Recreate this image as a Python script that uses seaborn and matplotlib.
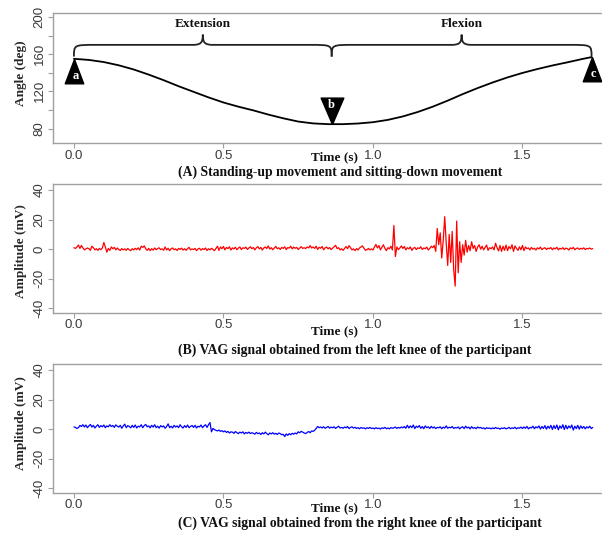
import matplotlib

matplotlib.use("Agg")
import matplotlib.pyplot as plt
import numpy as np
import seaborn as sns
from matplotlib.patches import PathPatch
from matplotlib.path import Path

# ---------------------------------------------------------------- data
FS = 200  # VAG sampling rate used for the traces below (samples / s)

# knee angle during stand-up / sit-down (panel A)
ANGLE_T = [0.00, 0.05, 0.10, 0.15, 0.20, 0.25, 0.30, 0.35, 0.40, 0.45,
           0.50, 0.55, 0.60, 0.65, 0.70, 0.75, 0.80, 0.85, 0.90, 0.95,
           1.00, 1.05, 1.10, 1.15, 1.20, 1.25, 1.30, 1.35, 1.40, 1.45,
           1.50, 1.55, 1.60, 1.65, 1.70, 1.731]
ANGLE_DEG = [155.0, 153.8, 151.5, 148.0, 143.5, 138.0, 132.0, 125.5, 119.5, 113.5,
             108.0, 103.5, 99.5, 95.0, 91.0, 87.5, 85.5, 84.7, 84.7, 85.4,
             86.8, 89.3, 93.0, 97.8, 103.5, 110.0, 117.0, 123.5, 129.5, 135.0,
             139.8, 144.0, 147.8, 151.2, 154.8, 156.8]

EVENT_T = [0.0, 0.862, 1.731]
EVENT_DEG = [155.0, 84.7, 156.8]
EVENT_LABELS = ["a", "b", "c"]
PHASE_LABELS = ["Extension", "Flexion"]

# VAG signal, left knee (panel B), one row = 0.1 s
LEFT_KNEE_MV = [
    1.0, 0.5, 1.5, 2.8, 0.5, 2.5, 0.8, -0.5, 0.2, 0.8, 0.3, -0.8, 2.0, 1.0, -0.5, 0.3, -0.8, 0.5, -0.3, 0.8,
    4.5, 1.5, -2.0, 0.5, -0.8, 1.5, 0.3, 1.2, -0.5, 0.8, -0.2, -0.9, 0.4, -0.5, 0.2, -0.8, 0.5, -0.4, -1.0, 0.3,
    -0.5, 0.6, -0.3, 0.9, -0.6, 2.0, 1.2, 2.2, 0.3, -0.8, 0.5, -1.0, 0.3, -0.6, 0.8, -0.4, 0.5, 0.9, -0.3, 0.2,
    -0.7, 1.5, -0.5, 0.6, -1.0, 0.3, 0.8, -0.4, 0.2, -0.9, 0.5, -0.2, 0.7, -0.6, 0.3, -0.8, 0.4, 1.2, -0.5, 0.2,
    -0.3, 0.5, -1.0, 0.2, 0.6, -0.7, 0.4, -0.3, 0.8, -0.9, 0.3, -0.5, 0.6, -0.2, -1.0, 0.5, 2.0, -0.8, 1.5, 0.3,
    1.8, -0.5, 1.2, 0.4, 1.6, -0.6, 0.9, 0.2, 1.3, -0.4, 0.7, 1.5, -0.3, 1.0, 0.5, 1.4, -0.2, 0.8, 1.6, 0.3,
    1.1, -0.5, 0.9, 1.7, 0.2, 1.2, -0.6, 0.8, 1.5, 0.4, 2.2, 0.1, 1.0, -0.4, 0.7, 1.9, 0.3, 0.9, -0.2, 1.2,
    0.5, 1.6, -0.3, 1.1, 0.7, 2.0, 0.2, 1.4, 0.6, 1.2, -0.2, 0.8, 1.7, 0.5, 1.0, 0.4, 1.5, 0.9, 2.4, 0.8,
    1.5, 0.5, 2.0, -0.2, 1.3, 0.6, 1.8, -0.4, 0.9, 1.4, 0.2, 1.1, -0.3, 0.7, 1.6, 2.6, 0.4, 1.0, -0.5, 0.3,
    -0.8, 0.5, 1.8, 0.3, 2.4, 1.0, -0.5, 0.2, -1.0, 0.4, -0.6, 0.8, 1.5, 2.2, 0.6, -0.8, -0.3, 0.5, -0.5, 0.2,
    -0.6, 1.5, 3.2, 0.8, 2.5, -0.5, 1.2, 3.0, 0.5, -1.0, 1.0, 0.2, 2.0, -0.5, 16.0, -5.0, 1.5, -0.3, 0.8, 2.2,
    0.5, 1.8, -0.5, 1.0, 0.2, 1.5, -0.8, 0.6, 1.2, -0.3, 0.9, 0.4, 1.6, -0.2, 0.8, 0.3, 1.4, -0.6, 0.5, 2.0,
    1.0, 2.5, -1.5, 14.0, 3.0, 11.0, -6.0, 6.0, 22.0, 4.0, -11.0, 10.0, -9.0, 12.0, -14.0, -25.0, 19.0, -16.0, 5.0, -9.0,
    3.0, -4.0, 6.0, -2.0, 2.5, -1.0, 5.0, 0.5, 2.5, -1.5, 1.5, 3.0, 0.0, 2.0, -0.5, 1.2, 2.8, -0.8, 1.0, 0.3,
    1.5, -0.5, 4.0, 1.0, -1.2, 2.5, -1.5, 2.0, -0.8, 2.8, -1.0, 1.8, 0.2, 3.0, -1.5, 2.2, 0.5, -0.8, 1.6, -0.4,
    2.5, -1.0, 1.5, 0.3, 0.8, -0.5, 1.2, 0.0, 0.6, -0.6, 0.9, 0.2, 1.4, -0.3, 0.5, 1.0, -0.2, 0.7, 0.3, 1.1,
    -0.4, 0.8, 0.2, 1.3, -0.5, 0.6, 0.1, 1.0, -0.3, 0.7, 0.4, -0.6, 0.9, 0.2, 1.2, -0.4, 0.5, 0.8, -0.2, 0.6,
    0.1, 0.9, -0.3, 0.5, 0.2, 0.8, 0.0, 0.4,
]

# VAG signal, right knee (panel C)
RIGHT_KNEE_MV = [
    1.5, 1.2, 0.5, 1.0, 2.5, 1.8, 3.0, 1.5, 2.8, 1.0, 2.2, 3.2, 1.4, 2.6, 0.8, 2.0, 3.0, 1.2, 2.4, 1.6,
    2.8, 1.0, 2.2, 1.6, 3.0, 1.8, 2.5, 1.2, 2.9, 2.0, 1.4, 2.6, 0.6, 2.2, 3.4, 1.0, 2.4, 1.8, 0.9, 2.6,
    1.2, 2.8, 0.8, 2.0, 1.5, 3.0, 1.0, 2.4, 3.2, 1.6, 2.2, 0.9, 2.6, 1.4, 3.0, 1.1, 2.0, 0.7, 2.4, 1.5,
    2.2, 0.6, 1.8, 3.6, 1.0, 2.0, 0.8, 2.6, 1.4, 2.2, 1.0, 3.0, 1.6, 0.8, 2.4, 1.2, 2.8, 1.0, 1.8, 2.5,
    1.2, 2.6, 0.8, 2.0, 1.5, 2.8, 1.0, 2.2, 3.0, 1.2, 3.0, 4.5, -1.8, 0.5, -0.3, -0.8, -1.2, -0.6, -1.5, -1.0,
    -1.8, -1.2, -2.2, -1.5, -2.6, -1.8, -2.0, -2.8, -1.6, -2.4, -3.0, -2.0, -2.6, -1.8, -3.2, -2.2, -2.8, -2.0, -3.0, -2.4,
    -2.8, -3.4, -2.2, -3.0, -2.6, -3.6, -2.4, -3.2, -2.0, -3.0, -3.8, -2.6, -3.2, -2.4, -3.4, -2.8, -3.6, -2.6, -3.0, -3.8,
    -3.5, -5.0, -3.2, -4.2, -3.0, -3.8, -2.8, -3.4, -2.6, -3.2, -1.8, -2.4, -1.5, -2.0, -2.6, -3.0, -2.2, -1.6, -2.4, -1.2,
    -1.5, -0.8, 0.5, 1.8, 1.0, 1.5, 0.8, 1.6, 0.6, 1.2, 1.8, 0.7, 1.4, 0.9, 1.6, 0.5, 1.3, 2.0, 0.8, 1.2,
    0.6, 1.5, 0.9, 1.8, 0.4, 1.2, 1.6, 0.7, 1.3, 0.5, 1.0, 0.3, 1.1, 0.6, 0.9, 0.2, 1.0, 0.5, 1.2, 0.4,
    0.8, 0.2, 1.0, 0.4, 0.7, 0.1, 0.9, 0.5, 1.2, 0.3, 0.8, 0.2, 1.1, 0.6, 0.9, 1.4, 0.5, 1.2, 0.7, 1.5,
    0.9, 1.8, 0.6, 2.6, 0.8, 2.2, 1.0, 2.8, 0.4, 2.0, 1.2, 2.4, 0.6, 1.8, 0.3, 2.2, 1.0, 1.6, 0.5, 1.9,
    0.8, 1.5, 0.4, 1.2, 0.9, 1.6, 0.3, 1.4, 0.7, 2.2, 0.6, 1.3, 0.9, 1.8, 0.5, 1.1, 0.8, 1.5, 0.2, 1.2,
    1.6, 0.4, 2.0, 0.8, 1.4, 0.2, 1.7, 0.6, 1.1, 0.3, 1.5, 0.8, 1.2, 0.4, 0.9, 0.1, 1.0, 0.5, 0.8, 0.2,
    0.9, 0.3, 1.1, 0.5, 0.7, 0.0, 0.8, 0.4, 1.0, 0.2, 0.6, 1.2, 0.3, 0.9, 0.5, 1.3, 0.2, 1.0, 0.6, 1.4,
    0.4, 1.5, 0.6, 1.8, 0.2, 1.2, 0.8, 2.0, 0.3, 1.6, 0.9, 2.2, 0.1, 1.8, 0.5, 2.4, 0.0, 2.0, 0.6, 2.6,
    -0.2, 2.4, 0.4, 2.8, -0.4, 2.2, 0.6, 3.0, -0.2, 2.6, 0.2, 2.2, 0.8, 2.8, -0.6, 2.0, 0.4, 2.6, 0.0, 2.2,
    0.6, 1.8, 0.2, 1.6, 0.8, 2.0, 0.4, 1.2,
]

X_TICKS = [0.0, 0.5, 1.0, 1.5]
X_TICKLABELS = ["0.0", "0.5", "1.0", "1.5"]
ANGLE_TICKS = [80, 100, 120, 140, 160, 180, 200]
ANGLE_TICKLABELS = ["80", "", "120", "", "160", "", "200"]
AMP_TICKS = [-40, -20, 0, 20, 40]
AMP_TICKLABELS = ["-40", "-20", "0", "20", "40"]

CAPTIONS = [
    "(A) Standing-up movement and sitting-down movement",
    "(B) VAG signal obtained from the left knee of the participant",
    "(C) VAG signal obtained from the right knee of the participant",
]

# ---------------------------------------------------------------- style
SERIF = "Liberation Serif"
SANS = "Liberation Sans"
SPINE = "#a0a0a0"

sns.set_theme(style="ticks")
plt.rcParams["font.family"] = [SANS, "DejaVu Sans"]

W, H = 602, 533
fig = plt.figure(figsize=(W / 100, H / 100), dpi=100)


def px_axes(top, bottom, left=53.3, right=602):
    return fig.add_axes([left / W, 1 - bottom / H, (right - left) / W, (bottom - top) / H])


def style_axes(ax, yticks, yticklabels, xlab_y, ylab_y):
    ax.set_xlim(-0.069, 1.766)
    ax.set_xticks(X_TICKS)
    ax.set_xticklabels(X_TICKLABELS)
    ax.set_yticks(yticks)
    ax.set_yticklabels(yticklabels)
    ax.spines["right"].set_visible(False)
    for side in ("left", "bottom", "top"):
        ax.spines[side].set_color(SPINE)
        ax.spines[side].set_linewidth(1.0)
    ax.tick_params(axis="both", direction="out", length=3.5, width=0.8, color=SPINE,
                   labelcolor="#3a3a3a", labelsize=9.5)
    ax.tick_params(axis="x", pad=1)
    ax.tick_params(axis="y", labelrotation=90, pad=2)
    for lab in ax.get_yticklabels():
        lab.set_va("center")
    ax.set_xlabel("Time (s)", family=SERIF, fontweight="bold", fontsize=9.5, color="#111111")
    ax.xaxis.set_label_coords(0.512, xlab_y)
    ax.xaxis.label.set_va("center")
    ax.yaxis.label.set_va("center")
    ax.yaxis.set_label_coords(-0.059, ylab_y)


def brace(ax, x0, x1, y_base, y_mid, y_tip, d_end=0.075, d_tip=0.035):
    xm = 0.5 * (x0 + x1)
    verts = [(x0, y_base), (x0, y_mid), (x0, y_mid), (x0 + d_end, y_mid),
             (xm - d_tip, y_mid),
             (xm - 0.2 * d_tip, y_mid), (xm, y_mid + 2), (xm, y_tip),
             (xm, y_mid + 2), (xm + 0.2 * d_tip, y_mid), (xm + d_tip, y_mid),
             (x1 - d_end, y_mid),
             (x1, y_mid), (x1, y_mid), (x1, y_base)]
    codes = ([Path.MOVETO] + [Path.CURVE4] * 3 + [Path.LINETO] + [Path.CURVE4] * 6
             + [Path.LINETO] + [Path.CURVE4] * 3)
    ax.add_patch(PathPatch(Path(verts, codes), fill=False, lw=1.3, edgecolor="#222222"))


# ---------------------------------------------------------------- panel A
axA = px_axes(12.7, 143.3)
sns.lineplot(x=ANGLE_T, y=ANGLE_DEG, ax=axA, color="black", lw=1.3, estimator=None, sort=False)
axA.set_ylim(64.1, 204.6)
axA.set_ylabel("Angle (deg)", family=SERIF, fontweight="bold", fontsize=9.5)
style_axes(axA, ANGLE_TICKS, ANGLE_TICKLABELS, -0.105, 0.535)

tri_up = [(0, 0), (-0.38, -1), (0.38, -1), (0, 0)]
tri_down = [(0, 0), (-0.43, 1), (0.43, 1), (0, 0)]
for t, deg, lbl in zip(EVENT_T, EVENT_DEG, EVENT_LABELS):
    up = lbl != "b"
    axA.plot([t], [deg], ls="none", marker=tri_up if up else tri_down,
             ms=35 if up else 38, color="black", clip_on=False, zorder=4)
    axA.annotate(lbl, (t, deg), xytext=(1 if up else 0, -12.5 if up else 13.5),
                 textcoords="offset points", ha="center", va="center", color="white",
                 family=SERIF, fontweight="bold", fontsize=9, zorder=5)

for (x0, x1), name in zip([(EVENT_T[0], EVENT_T[1]), (EVENT_T[1], EVENT_T[2])], PHASE_LABELS):
    brace(axA, x0, x1, 157.4, 170.0, 181.0)
    axA.text(0.5 * (x0 + x1), 192.5, name, ha="center", va="center",
             family=SERIF, fontweight="bold", fontsize=9.5, color="#111111")

# ---------------------------------------------------------------- panels B, C
for (top, bottom), sig, color, xlab_y, ylab_y in [
    ((184.3, 312.7), LEFT_KNEE_MV, "#ff0000", -0.148, 0.48),
    ((364.3, 492.7), RIGHT_KNEE_MV, "#0000ff", -0.125, 0.54),
]:
    ax = px_axes(top, bottom)
    t = np.arange(len(sig)) / FS
    sns.lineplot(x=t, y=sig, ax=ax, color=color, lw=0.9, estimator=None, sort=False)
    ax.set_ylim(-43.0, 43.9)
    ax.set_ylabel("Amplitude (mV)", family=SERIF, fontweight="bold", fontsize=9.5)
    style_axes(ax, AMP_TICKS, AMP_TICKLABELS, xlab_y, ylab_y)

# ---------------------------------------------------------------- captions
for y, cap in zip([172.5, 350.5, 523.5], CAPTIONS):
    fig.text(178 / W, 1 - y / H, cap, ha="left", va="center", family=SERIF,
             fontweight="bold", fontsize=9.8, color="#111111")

fig.savefig("out.png", dpi=100)
